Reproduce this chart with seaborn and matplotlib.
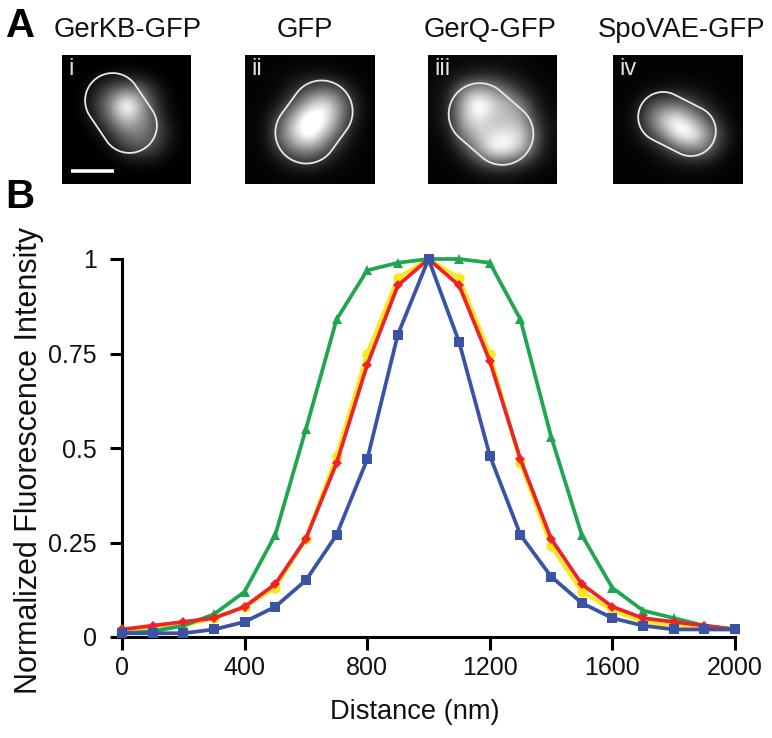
import numpy as np
import matplotlib
matplotlib.use('Agg')
import matplotlib.pyplot as plt
from matplotlib.patches import Polygon
from matplotlib.transforms import Affine2D
import seaborn as sns

# Line profiles
distance = list(range(0, 2100, 100))
gfp = [0.015, 0.02, 0.03, 0.05, 0.08, 0.13, 0.26, 0.48, 0.75, 0.95, 1, 0.95, 0.75, 0.46, 0.24, 0.12, 0.07, 0.04, 0.03, 0.02, 0.02]
gerq = [0.01, 0.015, 0.03, 0.06, 0.12, 0.27, 0.55, 0.84, 0.97, 0.99, 1, 1, 0.99, 0.84, 0.53, 0.27, 0.13, 0.07, 0.05, 0.03, 0.02]
spovae = [0.02, 0.03, 0.04, 0.05, 0.08, 0.14, 0.26, 0.46, 0.72, 0.93, 1, 0.93, 0.73, 0.47, 0.26, 0.14, 0.08, 0.05, 0.04, 0.03, 0.02]
gerkb = [0.01, 0.01, 0.01, 0.02, 0.04, 0.08, 0.15, 0.27, 0.47, 0.80, 1, 0.78, 0.48, 0.27, 0.16, 0.09, 0.05, 0.03, 0.02, 0.02, 0.02]

x_ticks = [0, 400, 800, 1200, 1600, 2000]
y_ticks = [0, 0.25, 0.5, 0.75, 1]
y_tick_labels = ['0', '0.25', '0.5', '0.75', '1']

panel_titles = ['GerKB-GFP', 'GFP', 'GerQ-GFP', 'SpoVAE-GFP']
panel_numbers = ['i', 'ii', 'iii', 'iv']

# Coarse brightness of each micrograph, estimated by eye
img_i = [
    [.02, .02, .02, .02, .02, .02, .02, .02, .02],
    [.02, .02, .03, .06, .08, .07, .03, .02, .02],
    [.02, .03, .15, .32, .42, .38, .14, .03, .02],
    [.02, .04, .22, .50, 1.0, .55, .20, .04, .02],
    [.02, .03, .14, .38, .65, .50, .28, .06, .02],
    [.02, .02, .05, .20, .38, .40, .30, .10, .02],
    [.02, .02, .02, .06, .22, .30, .22, .06, .02],
    [.02, .02, .02, .02, .04, .05, .04, .02, .02],
    [.02, .02, .02, .02, .02, .02, .02, .02, .02],
]
img_ii = [
    [.03, .03, .03, .03, .03, .03, .03, .03, .03],
    [.03, .03, .04, .06, .08, .08, .05, .03, .03],
    [.03, .03, .06, .15, .30, .38, .30, .08, .03],
    [.03, .04, .12, .35, .65, .80, .50, .18, .03],
    [.03, .06, .30, .65, 1.0, .85, .45, .12, .03],
    [.03, .07, .38, .72, .95, .60, .30, .07, .03],
    [.03, .05, .25, .45, .50, .35, .12, .04, .03],
    [.03, .03, .07, .16, .18, .10, .05, .03, .03],
    [.03, .03, .03, .03, .03, .03, .03, .03, .03],
]
img_iii = [
    [.04, .04, .05, .05, .05, .05, .04, .03, .03],
    [.04, .06, .10, .14, .15, .10, .07, .04, .03],
    [.05, .12, .45, .60, .50, .35, .15, .07, .04],
    [.05, .15, .60, .95, .70, .60, .45, .12, .05],
    [.05, .14, .58, .75, .60, .58, .55, .20, .06],
    [.04, .10, .45, .62, .70, .75, .70, .30, .06],
    [.03, .05, .20, .50, .85, .85, .65, .25, .05],
    [.03, .03, .07, .20, .30, .30, .20, .10, .04],
    [.03, .03, .03, .04, .05, .05, .04, .03, .03],
]
img_iv = [
    [.03, .03, .03, .03, .03, .03, .03, .03, .03],
    [.03, .03, .03, .03, .03, .03, .03, .03, .03],
    [.03, .03, .05, .08, .10, .08, .05, .03, .03],
    [.03, .05, .25, .35, .35, .25, .12, .05, .03],
    [.03, .07, .35, .70, .85, .55, .30, .10, .03],
    [.03, .05, .20, .45, .85, .90, .50, .20, .04],
    [.03, .03, .06, .15, .32, .45, .40, .12, .03],
    [.03, .03, .03, .05, .08, .10, .08, .04, .03],
    [.03, .03, .03, .03, .03, .03, .03, .03, .03],
]
panel_images = [img_i, img_ii, img_iii, img_iv]

# left edge of each micrograph, title centre, and the spore outline: centre x, centre y, length, width, angle
panel_left = [62, 245, 428, 613]
title_centres = [128, 305, 490, 682]
outlines = [
    (59, 58, 85, 55, 56),
    (69, 67, 88, 62, -54),
    (63, 69, 92, 62, 41),
    (64, 69, 81, 50, 27),
]

sns.set_style('white')
plt.rcParams['font.family'] = ['Liberation Sans', 'DejaVu Sans']

W, H = 772, 738
fig = plt.figure(figsize=(W / 100, H / 100), dpi=100)


def px_axes(x0, y0, x1, y1):
    return fig.add_axes([x0 / W, 1 - y1 / H, (x1 - x0) / W, (y1 - y0) / H])


def capsule_points(cx, cy, length, width):
    r = width / 2
    off = length / 2 - r
    t = np.linspace(-np.pi / 2, np.pi / 2, 40)
    right = np.column_stack([cx + off + r * np.cos(t), cy + r * np.sin(t)])
    left = np.column_stack([cx - off - r * np.cos(t), cy - r * np.sin(t)])
    return np.vstack([right, left])


# Panel A
for left, centre, title, num, img, (cx, cy, length, width, angle) in zip(panel_left, title_centres, panel_titles, panel_numbers, panel_images, outlines):
    ax = px_axes(left, 55, left + 129, 184)
    ax.imshow(img, cmap='gray', vmin=0.02, vmax=0.8, interpolation='bicubic', extent=(0, 129, 129, 0), aspect='auto')
    capsule = Polygon(capsule_points(cx, cy, length, width), closed=True, fill=False,
                      edgecolor='#e8e8e8', linewidth=1.3)
    capsule.set_transform(Affine2D().rotate_deg_around(cx, cy, angle) + ax.transData)
    ax.add_patch(capsule)
    ax.text(6, 3, num, color='#e0e0e0', fontsize=17, va='top', ha='left')
    ax.set_xlim(0, 129)
    ax.set_ylim(129, 0)
    ax.axis('off')
    fig.text(centre / W, 1 - 30 / H, title, fontsize=19.8, ha='center', va='center', color='#111111')
    if num == 'i':
        ax.plot([9, 52], [116, 116], color='white', lw=2.6, solid_capstyle='butt')

fig.text(6 / W, 1 - 26 / H, 'A', fontsize=29, fontweight='bold', ha='left', va='center', color='black')
fig.text(5 / W, 1 - 197 / H, 'B', fontsize=29, fontweight='bold', ha='left', va='center', color='black')

# Panel B
ax = px_axes(122, 259, 735, 637)
series = [
    (gfp, '#f9e81e', 'o', 7.5),
    (gerq, '#1fa650', '^', 7.5),
    (spovae, '#ee2327', 'D', 5.5),
    (gerkb, '#3a53a4', 's', 7.5),
]
for values, colour, mark, size in series:
    sns.lineplot(x=distance, y=values, color=colour, marker=mark, markersize=size,
                 linewidth=2.7, markeredgewidth=0, clip_on=False, zorder=3, ax=ax)
ax.set_xlim(0, 2000)
ax.set_ylim(0, 1)
ax.set_xticks(x_ticks)
ax.set_yticks(y_ticks)
ax.set_yticklabels(y_tick_labels)
sns.despine(ax=ax)
for side in ['left', 'bottom']:
    ax.spines[side].set_linewidth(2.2)
    ax.spines[side].set_color('black')
ax.tick_params(axis='both', length=9, width=2.2, color='black', labelsize=18, labelcolor='#111111',
               left=True, bottom=True)
ax.tick_params(axis='y', pad=9)
ax.tick_params(axis='x', pad=5)
ax.set_xlabel('')
ax.set_ylabel('')
fig.text(415 / W, 1 - 712 / H, 'Distance (nm)', fontsize=19.6, ha='center', va='center', color='#111111')
fig.text(29 / W, 1 - 460 / H, 'Normalized Fluorescence Intensity', fontsize=22, rotation=90,
         ha='center', va='center', color='#111111')

fig.savefig('out.png', dpi=100)
